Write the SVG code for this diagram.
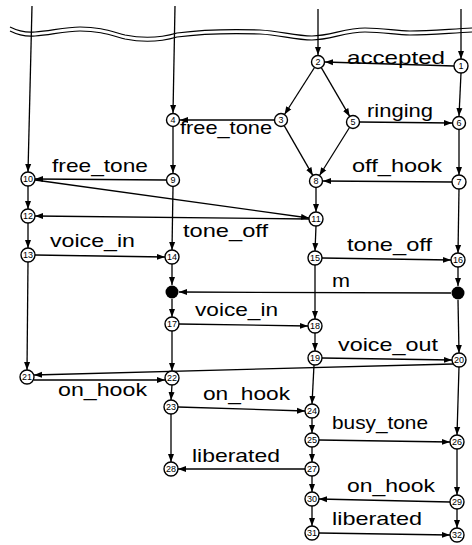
<svg xmlns="http://www.w3.org/2000/svg" width="472" height="545" viewBox="0 0 472 545">
<style>
.c{fill:none;stroke:#000;stroke-width:1.3}
.n circle{fill:#fff;stroke:#000;stroke-width:1.4}
.n text{font-family:"Liberation Sans",Arial,sans-serif;font-size:9px;text-anchor:middle;dominant-baseline:central;fill:#000}
.d{fill:#000}
.l{font-family:"Liberation Sans",Arial,sans-serif;font-size:19px;fill:#000}
.w{fill:none;stroke:#000;stroke-width:1.2}
</style>
<defs>
<marker id="a" markerUnits="userSpaceOnUse" markerWidth="9" markerHeight="7" refX="8" refY="3.5" orient="auto"><path d="M0,0.5 L8,3.5 L0,6.5 z" fill="#000"/></marker>
</defs>
<rect width="472" height="545" fill="#fff"/>
<g id="connectors" class="c" marker-end="url(#a)">
<path d="M32,6 L28,172"/>
<path d="M28,186 L28,209"/>
<path d="M28,223 L28,248"/>
<path d="M28,262 L27,370"/>
<path d="M175,6 L173,113"/>
<path d="M173,127 L173,173"/>
<path d="M173,187 L172,250"/>
<path d="M172,264 L172,285"/>
<path d="M172,299 L172,317"/>
<path d="M172,331 L172,371"/>
<path d="M172,385 L171,400"/>
<path d="M171,414 L171,462"/>
<path d="M318,9 L318,55"/>
<path d="M314.5,67.5 L284.5,114.5"/>
<path d="M321.3,67.6 L349.7,116.4"/>
<path d="M284.2,125.6 L312.8,175.4"/>
<path d="M349.5,127.5 L319.5,175.5"/>
<path d="M316,188 L316,212"/>
<path d="M316,226 L315,251"/>
<path d="M315,265 L315,319"/>
<path d="M315,333 L315,351"/>
<path d="M314,365 L312,404"/>
<path d="M312,418 L312,433"/>
<path d="M312,447 L312,462"/>
<path d="M312,476 L312,492"/>
<path d="M312,506 L312,526"/>
<path d="M461,9 L461,59"/>
<path d="M461,73 L459,116"/>
<path d="M459,130 L459,175"/>
<path d="M459,189 L458,253"/>
<path d="M458,267 L458,286"/>
<path d="M458,300 L459,353"/>
<path d="M459,367 L457,435"/>
<path d="M457,449 L457,495"/>
<path d="M457,509 L457,528"/>
<path d="M454,66 L325,62"/>
<path d="M274,120 L180,120"/>
<path d="M360,122 L452,123"/>
<path d="M452,182 L323,181"/>
<path d="M166,180 L35,179"/>
<path d="M35,180 L309,218"/>
<path d="M309,219 L35,216"/>
<path d="M35,255 L165,257"/>
<path d="M322,258 L451,260"/>
<path d="M451,293 L179,292"/>
<path d="M179,324 L308,326"/>
<path d="M322,358 L452,360"/>
<path d="M453,364 L34,375"/>
<path d="M34,380 L165,380"/>
<path d="M178,407 L305,411"/>
<path d="M319,440 L450,442"/>
<path d="M305,469 L178,469"/>
<path d="M450,502 L319,499"/>
<path d="M319,533 L450,535"/>
</g>
<g id="wave" class="w">
<path d="M10,27 C18,31 25,33 35,32 C50,31 65,27 80,27 C100,27 110,31 125,35 C140,38 160,38 177,33 C200,30 230,29 260,30 C280,31 295,36 312,36 C330,36 345,28 365,28 C385,28 395,31 410,31 C430,31 450,29 472,28"/>
<path d="M10,31 C18,35 25,37 35,36 C50,35 65,31 80,31 C100,31 110,35 125,39 C140,42 160,42 177,37 C200,34 230,33 260,34 C280,35 295,40 312,40 C330,40 345,32 365,32 C385,32 395,35 410,35 C430,35 450,33 472,32"/>
</g>
<g id="n1" class="n"><circle cx="461" cy="66" r="7"/><text x="461" y="66">1</text></g>
<g id="n2" class="n"><circle cx="318" cy="62" r="6.5"/><text x="318" y="62">2</text></g>
<g id="n3" class="n"><circle cx="281" cy="120" r="6.5"/><text x="281" y="120">3</text></g>
<g id="n4" class="n"><circle cx="173" cy="120" r="6.5"/><text x="173" y="120">4</text></g>
<g id="n5" class="n"><circle cx="353" cy="122" r="6.5"/><text x="353" y="122">5</text></g>
<g id="n6" class="n"><circle cx="459" cy="123" r="6.5"/><text x="459" y="123">6</text></g>
<g id="n7" class="n"><circle cx="459" cy="182" r="7"/><text x="459" y="182">7</text></g>
<g id="n8" class="n"><circle cx="316" cy="181" r="6.5"/><text x="316" y="181">8</text></g>
<g id="n9" class="n"><circle cx="173" cy="180" r="6.5"/><text x="173" y="180">9</text></g>
<g id="n10" class="n"><circle cx="28" cy="179" r="7"/><text x="28" y="179">10</text></g>
<g id="n11" class="n"><circle cx="316" cy="219" r="7"/><text x="316" y="219">11</text></g>
<g id="n12" class="n"><circle cx="28" cy="216" r="7"/><text x="28" y="216">12</text></g>
<g id="n13" class="n"><circle cx="28" cy="255" r="7"/><text x="28" y="255">13</text></g>
<g id="n14" class="n"><circle cx="172" cy="257" r="7"/><text x="172" y="257">14</text></g>
<g id="n15" class="n"><circle cx="315" cy="258" r="7"/><text x="315" y="258">15</text></g>
<g id="n16" class="n"><circle cx="458" cy="260" r="7"/><text x="458" y="260">16</text></g>
<g id="dl"><circle class="d" cx="172" cy="292" r="6.5"/></g>
<g id="dr"><circle class="d" cx="458" cy="293" r="6.5"/></g>
<g id="n17" class="n"><circle cx="172" cy="324" r="7"/><text x="172" y="324">17</text></g>
<g id="n18" class="n"><circle cx="315" cy="326" r="7"/><text x="315" y="326">18</text></g>
<g id="n19" class="n"><circle cx="315" cy="358" r="7"/><text x="315" y="358">19</text></g>
<g id="n20" class="n"><circle cx="459" cy="360" r="7"/><text x="459" y="360">20</text></g>
<g id="n21" class="n"><circle cx="27" cy="377" r="7"/><text x="27" y="377">21</text></g>
<g id="n22" class="n"><circle cx="172" cy="378" r="7"/><text x="172" y="378">22</text></g>
<g id="n23" class="n"><circle cx="171" cy="407" r="7"/><text x="171" y="407">23</text></g>
<g id="n24" class="n"><circle cx="312" cy="411" r="7"/><text x="312" y="411">24</text></g>
<g id="n25" class="n"><circle cx="312" cy="440" r="7"/><text x="312" y="440">25</text></g>
<g id="n26" class="n"><circle cx="457" cy="442" r="7"/><text x="457" y="442">26</text></g>
<g id="n27" class="n"><circle cx="312" cy="469" r="7"/><text x="312" y="469">27</text></g>
<g id="n28" class="n"><circle cx="171" cy="469" r="7"/><text x="171" y="469">28</text></g>
<g id="n29" class="n"><circle cx="457" cy="502" r="7"/><text x="457" y="502">29</text></g>
<g id="n30" class="n"><circle cx="312" cy="499" r="7"/><text x="312" y="499">30</text></g>
<g id="n31" class="n"><circle cx="312" cy="533" r="7"/><text x="312" y="533">31</text></g>
<g id="n32" class="n"><circle cx="457" cy="535" r="7"/><text x="457" y="535">32</text></g>
<g id="labels" class="l">
<text x="347" y="64" textLength="98" lengthAdjust="spacingAndGlyphs">accepted</text>
<text x="367" y="117" textLength="66" lengthAdjust="spacingAndGlyphs">ringing</text>
<text x="180" y="134" textLength="92" lengthAdjust="spacingAndGlyphs">free_tone</text>
<text x="52" y="172" textLength="96" lengthAdjust="spacingAndGlyphs">free_tone</text>
<text x="352" y="172" textLength="90" lengthAdjust="spacingAndGlyphs">off_hook</text>
<text x="183" y="237" textLength="85" lengthAdjust="spacingAndGlyphs">tone_off</text>
<text x="50" y="247" textLength="85" lengthAdjust="spacingAndGlyphs">voice_in</text>
<text x="347" y="251" textLength="85" lengthAdjust="spacingAndGlyphs">tone_off</text>
<text x="332" y="287" textLength="18" lengthAdjust="spacingAndGlyphs">m</text>
<text x="195" y="316" textLength="83" lengthAdjust="spacingAndGlyphs">voice_in</text>
<text x="338" y="351" textLength="100" lengthAdjust="spacingAndGlyphs">voice_out</text>
<text x="58" y="396" textLength="89" lengthAdjust="spacingAndGlyphs">on_hook</text>
<text x="203" y="400" textLength="87" lengthAdjust="spacingAndGlyphs">on_hook</text>
<text x="332" y="429" textLength="96" lengthAdjust="spacingAndGlyphs">busy_tone</text>
<text x="192" y="462" textLength="88" lengthAdjust="spacingAndGlyphs">liberated</text>
<text x="347" y="492" textLength="88" lengthAdjust="spacingAndGlyphs">on_hook</text>
<text x="332" y="525" textLength="90" lengthAdjust="spacingAndGlyphs">liberated</text>
</g>
</svg>
